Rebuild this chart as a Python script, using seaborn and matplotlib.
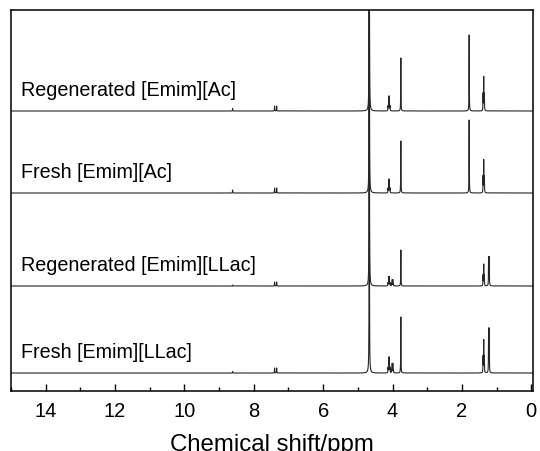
import numpy as np
import pandas as pd
import seaborn as sns
import matplotlib
matplotlib.use("Agg")
import matplotlib.pyplot as plt
from matplotlib.ticker import MultipleLocator

# spectra, bottom to top
labels = ["Fresh [Emim][LLac]", "Regenerated [Emim][LLac]",
          "Fresh [Emim][Ac]", "Regenerated [Emim][Ac]"]
offsets = [18, 105, 198, 280]

# peak list (ppm) and multiplicity
peak_shifts = [8.61, 7.40, 7.34, 4.67, 4.10, 4.00, 3.76, 1.79, 1.37, 1.22]
multiplicity = [1, 1, 1, 1, 4, 4, 1, 1, 3, 2]

# apparent peak heights
fresh_llac = [1.5, 5, 5, 400, 15, 9, 56, 0, 32, 43]
regen_llac = [1, 4, 4, 400, 9, 6, 36, 0, 21, 28]
fresh_ac = [3, 5, 5, 400, 13, 0, 52, 73, 32, 0]
regen_ac = [2.5, 5, 5, 400, 14, 0, 53, 76, 33, 0]
heights = [fresh_llac, regen_llac, fresh_ac, regen_ac]

J = 0.018  # coupling, ppm
W = 0.004  # half width, ppm


def multiplet(x, center, n, height):
    coeffs = np.array([1.0])
    for _ in range(n - 1):
        coeffs = np.convolve(coeffs, [1, 1])
    coeffs = coeffs / coeffs.max()
    y = np.zeros_like(x)
    for k, c in enumerate(coeffs):
        pos = center + (k - (n - 1) / 2) * J
        y += height * c * W**2 / ((x - pos)**2 + W**2)
    return y


def build_spectrum(x, hs):
    y = np.zeros_like(x)
    for pos, n, h in zip(peak_shifts, multiplicity, hs):
        if h > 0:
            y += multiplet(x, pos, n, h)
    return y


ppm = np.arange(-0.05, 15.0, 0.0005)
frames = []
for lab, off, hs in zip(labels, offsets, heights):
    frames.append(pd.DataFrame({"ppm": ppm, "intensity": build_spectrum(ppm, hs) + off, "sample": lab}))
df = pd.concat(frames, ignore_index=True)

sns.set_style("ticks")
plt.rcParams["font.family"] = ["Liberation Sans", "DejaVu Sans"]
plt.rcParams["text.color"] = "black"
plt.rcParams["xtick.color"] = "black"
plt.rcParams["axes.labelcolor"] = "black"

fig = plt.figure(figsize=(5.4, 4.52), dpi=100)
ax = fig.add_axes([0.0204, 0.1327, 0.9666, 0.843])

for lab, off in zip(labels, offsets):
    sub = df[df["sample"] == lab]
    sns.lineplot(data=sub, x="ppm", y="intensity", color="#262626", lw=0.8,
                 estimator=None, sort=False, ax=ax)
    ax.text(14.7, off + 16, lab, fontsize=14.2, va="baseline", ha="left")

ax.set_xlim(15.0, -0.05)
ax.set_ylim(0, 381)
ax.set_yticks([])
ax.set_ylabel("")
ax.xaxis.set_major_locator(MultipleLocator(2))
ax.xaxis.set_minor_locator(MultipleLocator(1))
ax.tick_params(axis="x", which="major", direction="in", length=5, width=1, labelsize=14.5, pad=7.5)
ax.tick_params(axis="x", which="minor", direction="in", length=3, width=1)
for s in ax.spines.values():
    s.set_linewidth(1.1)
    s.set_color("black")
ax.set_xlabel("Chemical shift/ppm", fontsize=17.3, labelpad=9)

plt.savefig("out.png", dpi=100)
plt.close()
